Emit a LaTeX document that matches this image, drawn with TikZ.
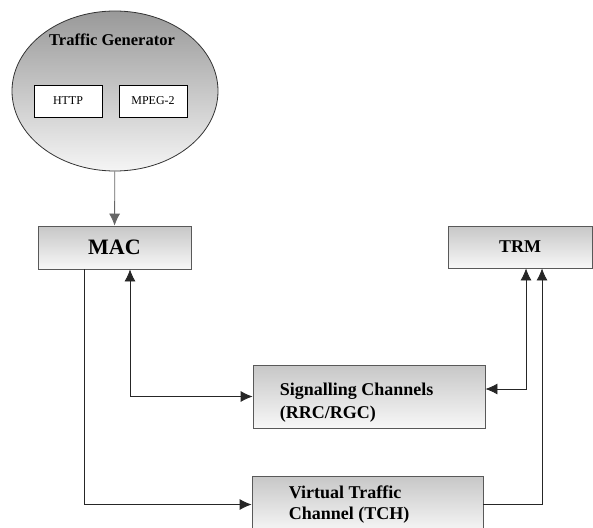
\documentclass[tikz,border=0pt]{standalone}
\usepackage{fontspec}
\setmainfont{Liberation Serif}
\usetikzlibrary{shapes.geometric}
\usetikzlibrary{arrows.meta}
\tikzset{
    block/.style={shape=rectangle, draw=black!65, line width=0.8pt,
        top color=black!22, bottom color=black!3, inner sep=0pt},
    subblock/.style={shape=rectangle, draw=black, line width=0.8pt, fill=white,
        minimum width=68pt, minimum height=32pt, inner sep=0pt,
        font=\fontsize{12}{14}\selectfont},
    blocktext/.style={anchor=west, align=left, inner sep=0pt,
        font=\fontsize{18}{23}\selectfont\bfseries},
    link/.style={line width=0.8pt, draw=black!85}}

\begin{document}
\begin{tikzpicture}[x=1pt, y=-1pt, >={Latex[length=12pt,width=11pt]}]

    \clip (0,0) rectangle (593,527);

    \node[shape=ellipse, draw=black!80, line width=0.8pt, top color=black!40, bottom color=black!4,
          minimum width=206pt, minimum height=160pt] (G) at (115,91) {};
    \node[font=\fontsize{16.5}{19}\selectfont\bfseries] (Gt) at (112,40) {Traffic Generator};
    \node[subblock] (H) at (68,101) {HTTP};
    \node[subblock] (M) at (153,101) {MPEG-2};

    \node[block, minimum width=153pt, minimum height=43pt,
          font=\fontsize{22}{26}\selectfont\bfseries] (MAC) at (114.5,247.5) {MAC};
    \node[block, minimum width=144pt, minimum height=42pt,
          font=\fontsize{18}{21}\selectfont\bfseries] (TRM) at (520,247) {TRM};
    \node[block, minimum width=232pt, minimum height=63pt] (S) at (369,396.5) {};
    \node[blocktext] (St) at ([xshift=27pt, yshift=-6pt]S.west) {Signalling Channels\\(RRC/RGC)};
    \node[block, minimum width=231pt, minimum height=57pt] (V) at (367.5,504.5) {};
    \node[blocktext, font=\fontsize{18}{21}\selectfont\bfseries] (Vt) at ([xshift=37pt]V.west)
          {Virtual Traffic\\Channel (TCH)};

    \draw[link, ->, draw=black!60] (G) -- (MAC);
    \draw[link, ->] ([xshift=-30.5pt]MAC.south) |- (V.west);
    \draw[link, <->] ([xshift=15.5pt]MAC.south) |- (S.west);
    \draw[link, <->] ([xshift=6pt]TRM.south) |- ([yshift=7.5pt]S.east);
    \draw[link, ->] (V.east) -| ([xshift=22pt]TRM.south);

\end{tikzpicture}
\end{document}
